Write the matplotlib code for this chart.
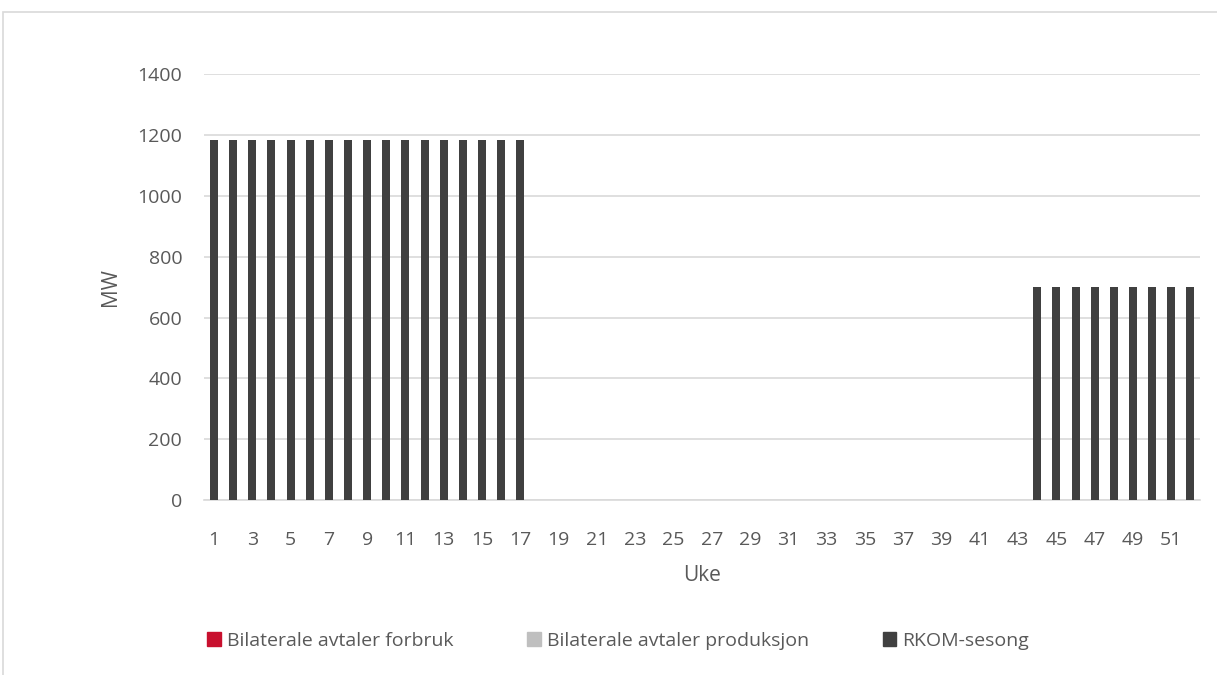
import matplotlib.pyplot as plt
from matplotlib.patches import Rectangle, Patch

# Ukenummer og kapasitet per serie (MW)
uker = list(range(1, 53))
forbruk = [0] * 52
produksjon = [0] * 52
rkom = [1185] * 17 + [0] * 26 + [700] * 9

plt.rcParams['font.family'] = ['Open Sans', 'DejaVu Sans']
tekst = '#595959'

fig = plt.figure(figsize=(12.17, 6.75), dpi=100)
ax = fig.add_axes([0.168, 0.259, 0.818, 0.631])

# Ramme rundt diagramomraadet (fortsetter utenfor bildet til hoyre og nederst)
fig.patches.append(Rectangle((3 / 1217, -0.1), 1.2, 1.1 - 12 / 675, transform=fig.transFigure,
                             fill=False, edgecolor='#D9D9D9', linewidth=1.2))

x = range(len(uker))
bredde = 0.42
ax.bar(x, forbruk, width=bredde, color='#C8102E', zorder=3)
ax.bar(x, produksjon, width=bredde, bottom=forbruk, color='#BFBFBF', zorder=3)
bunn = [a + b for a, b in zip(forbruk, produksjon)]
ax.bar(x, rkom, width=bredde, bottom=bunn, color='#404040', zorder=3)

ax.set_xlim(-0.5, len(uker) - 0.5)
ax.set_ylim(0, 1400)
ax.set_yticks(range(0, 1401, 200))
ax.set_xticks([i for i in x if uker[i] % 2 == 1])
ax.set_xticklabels([str(uker[i]) for i in x if uker[i] % 2 == 1])
ax.tick_params(axis='both', length=0, labelsize=14, labelcolor=tekst)
ax.tick_params(axis='x', pad=22)
ax.tick_params(axis='y', pad=16)

ax.grid(axis='y', color='#D9D9D9', linewidth=1.2, zorder=0)
for s in ['top', 'right', 'left']:
    ax.spines[s].set_visible(False)
ax.spines['bottom'].set_color('#D9D9D9')
ax.spines['bottom'].set_linewidth(1.2)

ax.set_xlabel('Uke', fontsize=15, color=tekst, labelpad=12)
ax.set_ylabel('MW', fontsize=15, color=tekst, labelpad=12)

handles = [Patch(color='#C8102E'), Patch(color='#BFBFBF'), Patch(color='#404040')]
navn = ['Bilaterale avtaler forbruk', 'Bilaterale avtaler produksjon', 'RKOM-sesong']
fig.legend(handles, navn, loc='center', bbox_to_anchor=(0.508, 1 - 641 / 675), ncol=3,
           frameon=False, fontsize=14, labelcolor=tekst, handlelength=0.7, handleheight=0.7,
           handletextpad=0.3, columnspacing=3.8)

fig.savefig('out.png', dpi=100)
